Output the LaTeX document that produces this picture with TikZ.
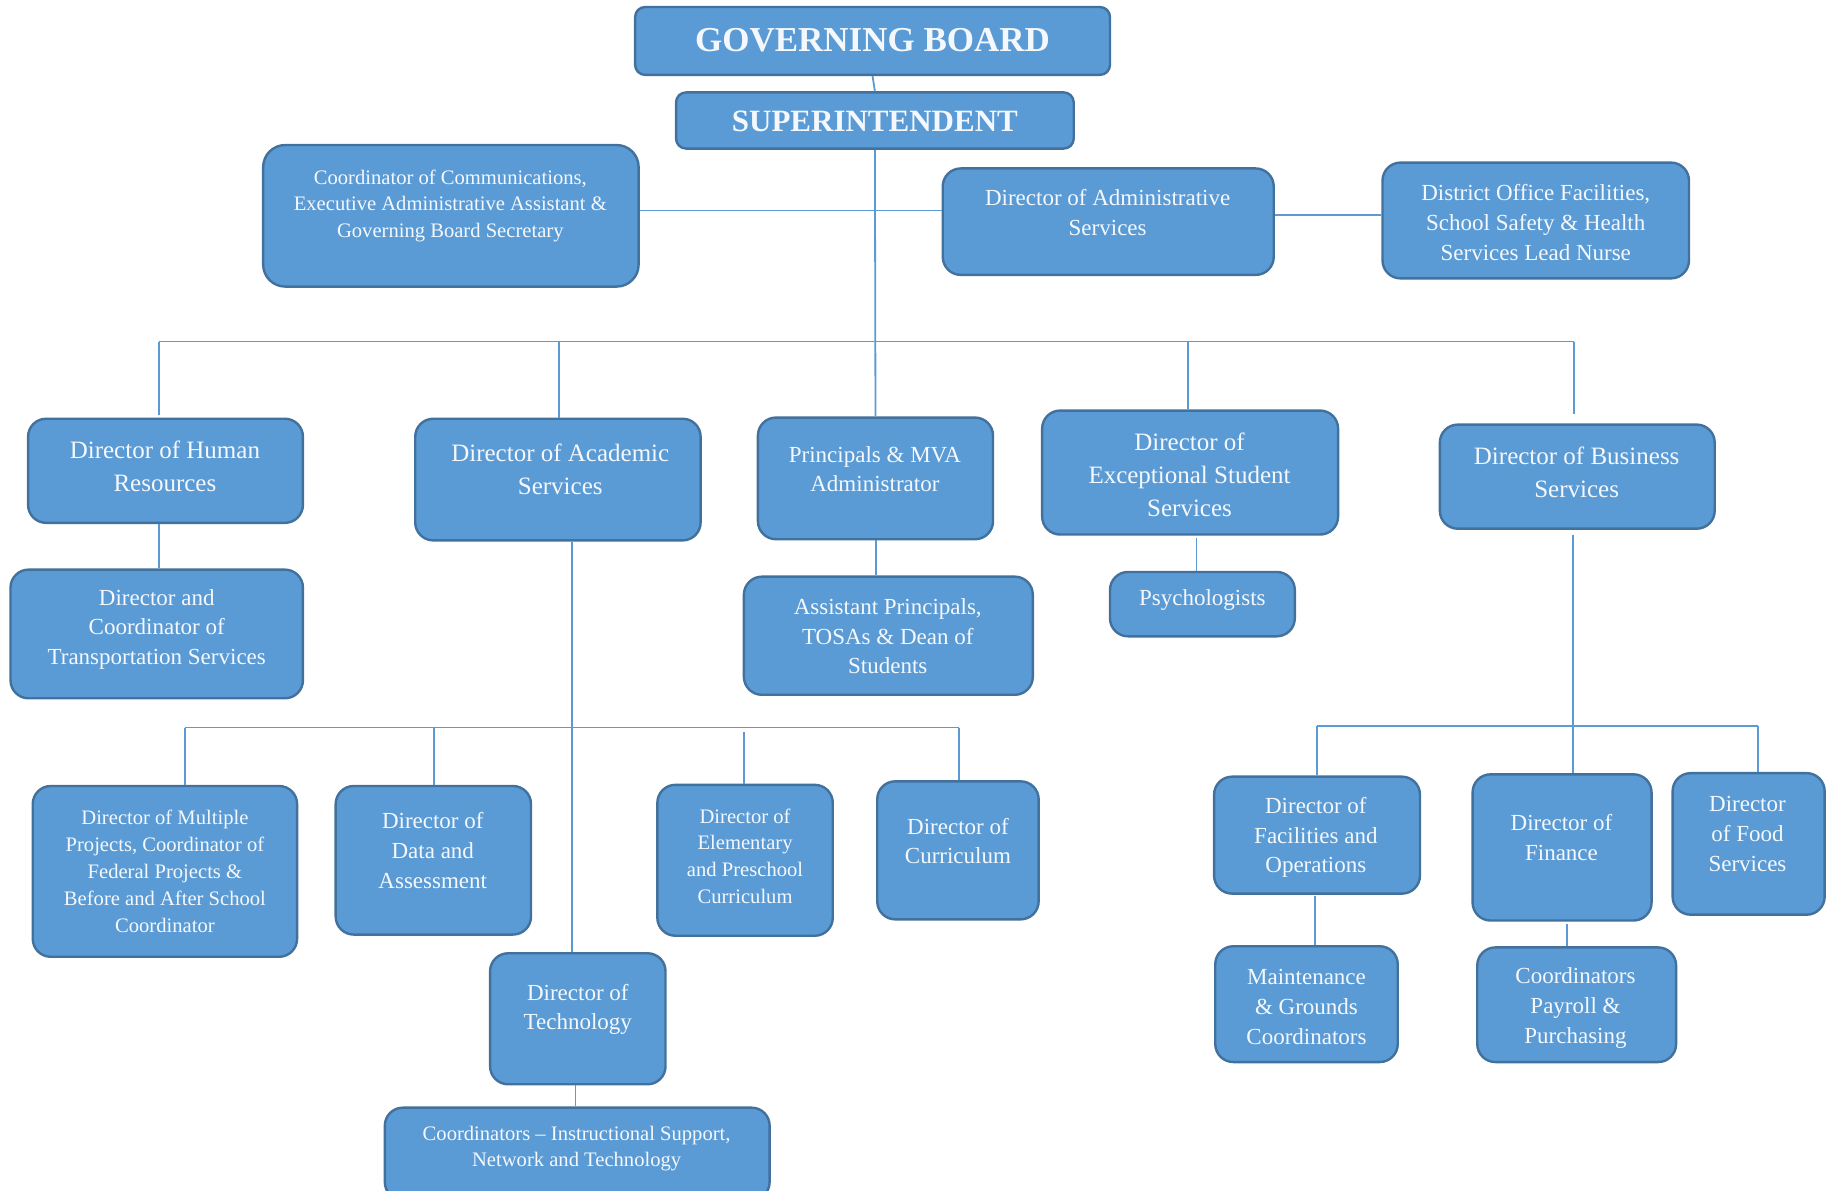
\documentclass[tikz,border=0pt]{standalone}
\usepackage{fontspec}
\setmainfont{Liberation Serif}
\usetikzlibrary{fit}
\definecolor{boxfill}{HTML}{5B9BD5}
\definecolor{boxline}{HTML}{41719C}
\definecolor{connline}{HTML}{5B9BD5}
\definecolor{txtcol}{HTML}{F4F8FC}
\tikzset{
  box/.style={draw=boxline, fill=boxfill, line width=1.2pt, rounded corners=9pt, inner sep=0pt},
  tbox/.style={box, rounded corners=5pt},
  conn/.style={draw=connline, line width=0.9pt},
  txt/.style={text=txtcol, align=center, inner sep=0pt},
  tH/.style={txt, font=\fontsize{17.5}{20}\selectfont\bfseries},
  tS/.style={txt, font=\fontsize{15.5}{18}\selectfont\bfseries},
  tL/.style={txt, font=\fontsize{12.5}{16.4}\selectfont},
  tM/.style={txt, font=\fontsize{11.5}{14.9}\selectfont},
  tC/.style={txt, font=\fontsize{10.3}{13.4}\selectfont}
}
\begin{document}
\begin{tikzpicture}[x=0.5848pt, y=-0.5848pt]
\useasboundingbox (0,0) rectangle (1568,1018);
\fill[white] (0,0) rectangle (1568,1018);

% ---- boxes ----
\node[tbox, fit={(543,6) (949,64)}] (gb) {};
\node[tbox, fit={(578,79) (918,127)}] (sup) {};
\node[box, rounded corners=11pt, fit={(225,124) (546,245)}] (cc) {};
\node[box, fit={(806,144) (1089,235)}] (da) {};
\node[box, fit={(1182,139) (1444,238)}] (dof) {};
\node[box, fit={(24,358) (259,447)}] (hr) {};
\node[box, fit={(9,487) (259,597)}] (tr) {};
\node[box, fit={(355,358) (599,462)}] (ac) {};
\node[box, fit={(648,357) (849,461)}] (pr) {};
\node[box, fit={(636,493) (883,594)}] (ap) {};
\node[box, fit={(891,351) (1144,457)}] (ex) {};
\node[box, fit={(949,489) (1107,544)}] (ps) {};
\node[box, fit={(1231,363) (1466,452)}] (bu) {};
\node[box, fit={(28,672) (254,818)}] (mp) {};
\node[box, fit={(287,672) (454,799)}] (dt) {};
\node[box, fit={(562,671) (712,800)}] (el) {};
\node[box, fit={(750,668) (888,786)}] (cu) {};
\node[box, fit={(419,815) (569,927)}] (te) {};
\node[box, fit={(329,947) (658,1026)}] (ci) {};
\node[box, fit={(1038,664) (1214,764)}] (fa) {};
\node[box, fit={(1259,662) (1412,787)}] (fi) {};
\node[box, fit={(1430,661) (1560,782)}] (fo) {};
\node[box, fit={(1039,809) (1195,908)}] (mg) {};
\node[box, fit={(1263,810) (1433,908)}] (pp) {};

% ---- texts ----
\node[tH] (gb-t) at (746,34) {GOVERNING BOARD};
\node[tS] (sup-t) at (748,104) {SUPERINTENDENT};
\node[tC] (cc-t) at (385,176) {Coordinator of Communications,\\Executive Administrative Assistant \&\\Governing Board Secretary};
\node[tM] (da-t) at (947,182) {Director of Administrative\\Services};
\node[tM] (dof-t) at (1313,190) {District Office Facilities,\\School Safety \& Health\\Services Lead Nurse};
\node[tL] (hr-t) at (141,399) {Director of Human\\Resources};
\node[tM] (tr-t) at (134,538) {Director and\\Coordinator of\\Transportation Services};
\node[tL] (ac-t) at (479,401) {Director of Academic\\Services};
\node[tM] (pr-t) at (748,401) {Principals \& MVA\\Administrator};
\node[tM] (ap-t) at (759,544) {Assistant Principals,\\TOSAs \& Dean of\\Students};
\node[tL] (ex-t) at (1017,406) {Director of\\Exceptional Student\\Services};
\node[tM] (ps-t) at (1028,513) {Psychologists};
\node[tL] (bu-t) at (1348,404) {Director of Business\\Services};
\node[tC] (mp-t) at (141,745) {Director of Multiple\\Projects, Coordinator of\\Federal Projects \&\\Before and After School\\Coordinator};
\node[tM] (dt-t) at (370,727) {Director of\\Data and\\Assessment};
\node[tC] (el-t) at (637,732) {Director of\\Elementary\\and Preschool\\Curriculum};
\node[tM] (cu-t) at (819,719) {Director of\\Curriculum};
\node[tM] (te-t) at (494,863) {Director of\\Technology};
\node[tC] (ci-t) at (493,982) {Coordinators -- Instructional Support,\\Network and Technology};
\node[tM] (fa-t) at (1125,716) {Director of\\Facilities and\\Operations};
\node[tM] (fi-t) at (1335,716) {Director of\\Finance};
\node[tM] (fo-t) at (1494,713) {Director\\of Food\\Services};
\node[tM] (mg-t) at (1117,861) {Maintenance\\\& Grounds\\Coordinators};
\node[tM] (pp-t) at (1347,862) {Coordinators\\Payroll \&\\Purchasing};

% ---- connector coordinates ----
\coordinate (busL) at (136,292);
\coordinate (busR) at (1346,292);
\coordinate (busA) at (478,292);
\coordinate (busE) at (1016,292);
\coordinate (abL) at (158,622);
\coordinate (abR) at (820,622);
\coordinate (abD) at (371,622);
\coordinate (abE) at (636,626);
\coordinate (bbL) at (1126,621);
\coordinate (bbR) at (1503,621);

% ---- connectors ----
\draw[conn] (gb.south) -- (sup.north);
\draw[conn] (sup.south) -- (pr.north);
\draw[conn] (cc.east |- 0,180) -- (da.west |- 0,180);
\draw[conn] (da.east |- 0,184) -- (dof.west |- 0,184);
\draw[conn] (busL) -- (busR);
\draw[conn] (busL) -- (busL |- 0,355);
\draw[conn] (busA) -- (busA |- ac.north);
\draw[conn] (busE) -- (busE |- ex.north);
\draw[conn] (busR) -- (busR |- 0,354);
\draw[conn] (136,0 |- hr.south) -- (136,0 |- tr.north);
\draw[conn] (749,0 |- pr.south) -- (749,0 |- ap.north);
\draw[conn] (1023,460) -- (1023,0 |- ps.north);
% academic
\draw[conn] (489,0 |- ac.south) -- (489,0 |- te.north);
\draw[conn] (abL) -- (abR);
\draw[conn] (abL) -- (abL |- mp.north);
\draw[conn] (abD) -- (abD |- dt.north);
\draw[conn] (abE) -- (abE |- el.north);
\draw[conn] (abR) -- (abR |- cu.north);
\draw[conn] (492,0 |- te.south) -- (492,0 |- ci.north);
% business
\draw[conn] (1345,457) -- (1345,0 |- fi.north);
\draw[conn] (bbL) -- (bbR);
\draw[conn] (bbL) -- (bbL |- fa.north);
\draw[conn] (bbR) -- (bbR |- fo.north);
\draw[conn] (1124,766) -- (1124,0 |- mg.north);
\draw[conn] (1340,790) -- (1340,0 |- pp.north);
\end{tikzpicture}
\end{document}
